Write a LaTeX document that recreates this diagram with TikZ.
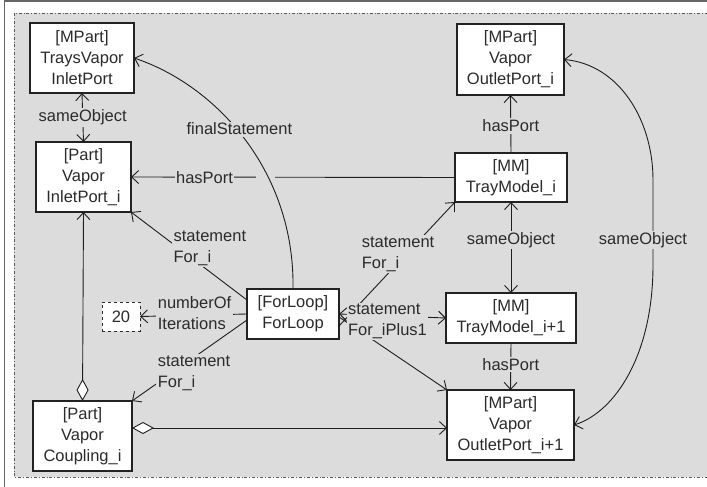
\documentclass[tikz,border=0pt]{standalone}
\usepackage{fontspec}
\setmainfont{Liberation Sans}
\usetikzlibrary{arrows.meta}
\definecolor{bg}{HTML}{DCDCDC}
\definecolor{ink}{HTML}{2B2B2B}
\definecolor{edge}{HTML}{1E1E1E}
\definecolor{boxline}{HTML}{222222}
\begin{document}
\begin{tikzpicture}[x=1pt,y=-1pt,
  font=\fontsize{16.5}{21}\selectfont, text=ink,
  >={Straight Barb[length=7pt,width=13pt]},
  box/.style={draw=boxline, line width=1.1pt, fill=white, align=center, inner sep=0pt, outer sep=0pt},
  numbox/.style={draw=ink, dashed, line width=0.9pt, fill=white, align=center, inner sep=0pt, outer sep=0pt},
  conn/.style={draw=edge, line width=0.9pt},
  lbl/.style={fill=bg, inner sep=1.5pt, align=center},
  lbll/.style={fill=bg, inner sep=1.5pt, align=left},
  agg/.style={{Diamond[length=22pt,width=12pt,fill=white,line width=0.9pt]}-{Straight Barb[length=7pt,width=13pt]}}
]
\useasboundingbox (0,0) rectangle (707,487);
% frame
\fill[white] (0,0) rectangle (707,487);
\fill[bg] (14,13) rectangle (708,477);
\draw[gray!70!black, line width=0.8pt, dash dot] (708,13) -- (14,13) -- (14,477) -- (708,477);
\draw[gray!80!black, line width=1.6pt] (4.5,487) -- (4.5,1) -- (707,1);

% nodes
\node[box, minimum width=104pt, minimum height=70pt] (tv) at (82,58) {[MPart]\\TraysVapor\\InletPort};
\node[box, minimum width=95pt, minimum height=70pt] (ip) at (83.5,177) {[Part]\\Vapor\\InletPort\_i};
\node[box, minimum width=107pt, minimum height=71pt] (vop) at (510.5,59.5) {[MPart]\\Vapor\\OutletPort\_i};
\node[box, minimum width=112pt, minimum height=49pt] (tm) at (511,177.5) {[MM]\\TrayModel\_i};
\node[box, minimum width=92pt, minimum height=50pt] (fl) at (293,314) {[ForLoop]\\ForLoop};
\node[numbox, minimum width=38pt, minimum height=29pt] (n20) at (121,316.5) {20};
\node[box, minimum width=99pt, minimum height=70pt] (vc) at (82.5,436) {[Part]\\Vapor\\Coupling\_i};
\node[box, minimum width=130pt, minimum height=50pt] (tm2) at (511,318) {[MM]\\TrayModel\_i+1};
\node[box, minimum width=127pt, minimum height=70pt] (vop2) at (510.5,425) {[MPart]\\Vapor\\OutletPort\_i+1};

% sameObject tv <-> ip
\draw[conn,<->] (tv.south) -- node[lbl] {sameObject} (ip.north);
% hasPort tm -> ip
\draw[conn,->] (tm.west) -- node[lbl, pos=0.773] {hasPort} (ip.east);
\fill[bg] (256,174) rectangle (275,180);
% finalStatement
\draw[conn,->] (fl.north) .. controls (295,170) and (215,85) .. node[lbl, pos=0.55, shift={(4,1.6)}] {finalStatement} (tv.east);
% hasPort tm -> vop
\draw[conn,->] (tm.north) -- node[lbl, pos=0.466] {hasPort} (vop.south);
% sameObject tm <-> tm2
\draw[conn,<->] (tm.south) -- node[lbl, pos=0.418] {sameObject} (tm2.north);
% hasPort tm2 -> vop2
\draw[conn,->] (tm2.south) -- node[lbl, pos=0.457] {hasPort} (vop2.north);
% sameObject vop <-> vop2
\coordinate (sm1) at (653,180);
\coordinate (sm2) at (653,265);
\draw[conn,<->] (vop.east) .. controls +(55,5) and +(0,-60) .. (sm1)
  -- node[lbl, pos=0.706, shift={(-10,0)}] {sameObject} (sm2)
  .. controls +(0,90) and +(41,-13) .. (vop2.east);

% ForLoop statements
\draw[conn,->] ([yshift=14pt]fl.west) -- node[lbll, pos=0.32, shift={(0,-23.5)}] {statement\\For\_i} (ip.south east);
\draw[conn,->] (fl.west) -- node[lbll, pos=0.49, shift={(0,-2.2)}] {numberOf\\Iterations} (n20.east);
\draw[conn,->] ([yshift=-6pt]fl.west) -- node[lbll, pos=0.461, shift={(0,15.7)}] {statement\\For\_i} (vc.north east);
\draw[conn,->] ([yshift=-12pt]fl.east) -- node[lbll, pos=0.509, shift={(0,-9)}] {statement\\For\_i} (tm.south west);
\draw[conn,->] ([yshift=-3pt]fl.east) -- (vop2.north west);
\draw[conn,<->] (fl.east) -- node[lbll, pos=0.453, shift={(0,5.7)}] {statement\\For\_iPlus1} (tm2.west);

% aggregations
\draw[conn,agg] (vc.north) -- (ip.south);
\draw[conn,agg] ([yshift=8pt]vc.east) -- ([yshift=-3pt]vop2.west);
\end{tikzpicture}
\end{document}
